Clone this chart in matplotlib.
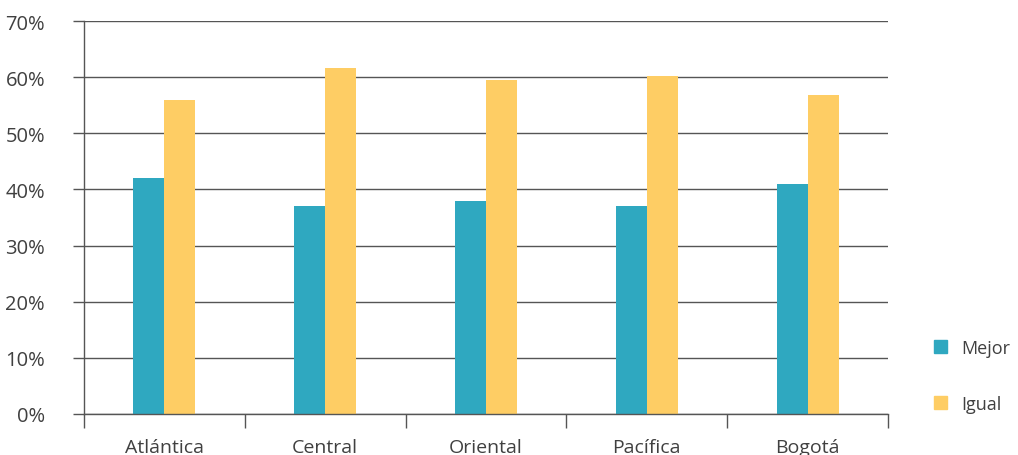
import matplotlib.pyplot as plt
from matplotlib.patches import Patch
import numpy as np

plt.rcParams['font.family'] = ['Open Sans', 'DejaVu Sans']

regions = ['Atlántica', 'Central', 'Oriental', 'Pacífica', 'Bogotá']
mejor = [42, 37, 38, 37, 41]
igual = [56, 61.6, 59.5, 60.2, 56.8]

teal = '#2FA8C0'
yellow = '#FECD64'
txt = '#404040'
line = '#555555'

fig = plt.figure(figsize=(10.18, 4.56), dpi=100)
ax = fig.add_axes([84/1018, 41/456, 804/1018, 393/456])

x = np.arange(len(regions))
w = 0.193
ax.bar(x - w/2, mejor, w, color=teal, label='Mejor')
ax.bar(x + w/2, igual, w, color=yellow, label='Igual')

ax.set_xlim(-0.5, len(regions) - 0.5)
ax.set_ylim(0, 70)
ax.set_yticks(range(0, 71, 10))
ax.set_yticklabels(['%d%%' % v for v in range(0, 71, 10)])
ax.set_axisbelow(True)
ax.yaxis.grid(True, color=line, linewidth=1)

ax.set_xticks(x)
ax.set_xticklabels(regions)
ax.set_xticks(np.arange(-0.5, len(regions)), minor=True)
ax.tick_params(axis='x', which='major', length=0, pad=17, labelsize=14, labelcolor=txt)
ax.tick_params(axis='x', which='minor', length=10, color=line, width=1)
ax.tick_params(axis='y', length=8, color=line, width=1, labelsize=14.5, labelcolor=txt, pad=20)

for s in ['top', 'right']:
    ax.spines[s].set_visible(False)
for s in ['left', 'bottom']:
    ax.spines[s].set_color(line)
    ax.spines[s].set_linewidth(1)

handles = [Patch(color=teal, label='Mejor'), Patch(color=yellow, label='Igual')]
fig.legend(handles=handles, loc='center left', bbox_to_anchor=(918/1018, 1 - 377/456),
           frameon=False, fontsize=13, labelcolor=txt, handlelength=0.72, handleheight=0.72,
           labelspacing=2.1, handletextpad=0.8)

fig.savefig('out.png', dpi=100)
